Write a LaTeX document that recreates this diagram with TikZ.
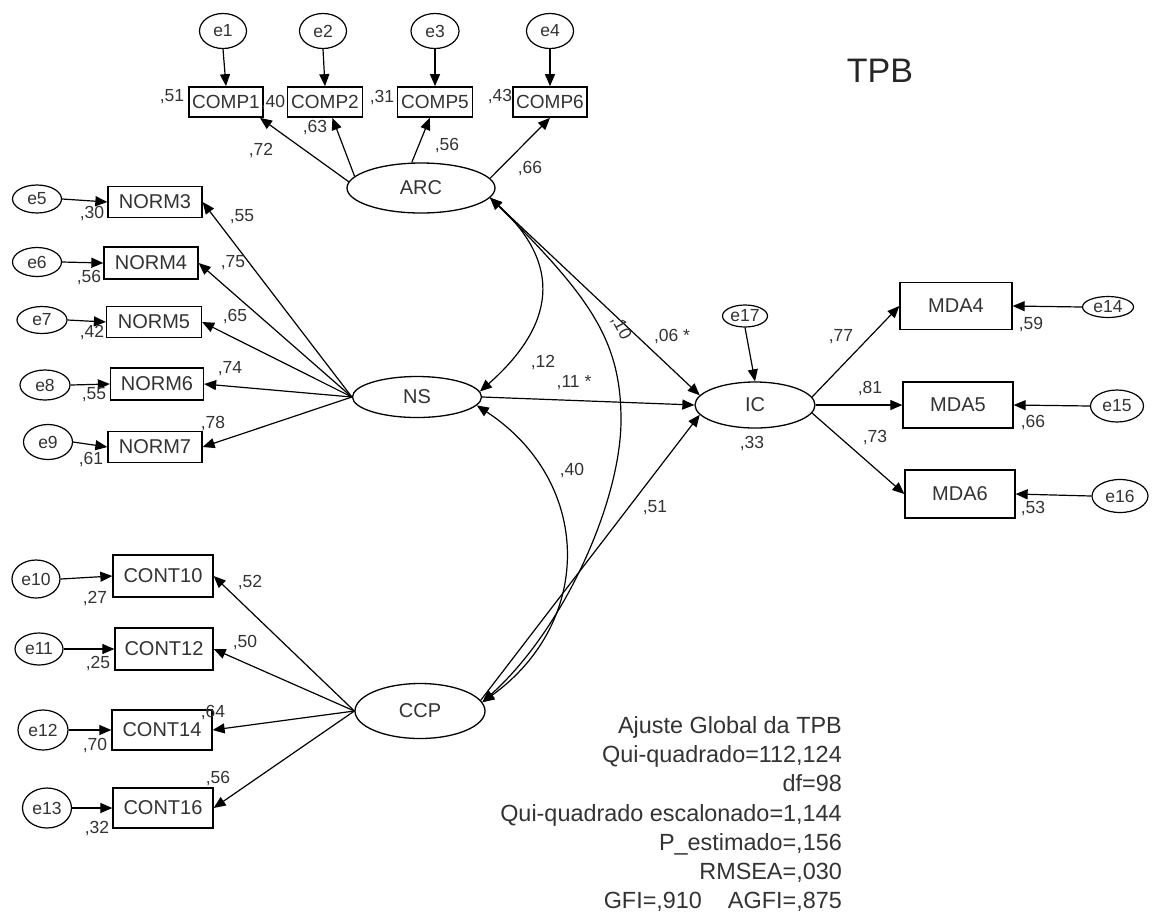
\documentclass[tikz,border=0pt]{standalone}
\usepackage{fontspec}
\setmainfont{Liberation Sans}
\usetikzlibrary{shapes.geometric,arrows.meta}
\begin{document}
\begin{tikzpicture}[x=1pt,y=-1pt,
  lv/.style={ellipse, draw=black, line width=1.3pt, inner sep=0pt, font=\fontsize{20}{20}\selectfont, text=black!80},
  ev/.style={ellipse, draw=black, line width=1.2pt, inner sep=0pt, font=\fontsize{17.5}{17.5}\selectfont, text=black!80},
  ob/.style={rectangle, draw=black, line width=1.3pt, inner sep=0pt, font=\fontsize{20}{20}\selectfont, text=black!80},
  cb/.style={ob, line width=1.7pt, font=\fontsize{19}{19}\selectfont},
  pa/.style={-{Triangle[length=12pt,width=10pt]}, line width=1.2pt},
  cv/.style={{Triangle[length=12pt,width=10pt]}-{Triangle[length=12pt,width=10pt]}, line width=1.2pt},
  lb/.style={font=\fontsize{17.5}{17.5}\selectfont, text=black!80, inner sep=0pt},
  ft/.style={anchor=base east, font=\fontsize{23.4}{23.4}\selectfont, text=black!80, inner sep=0pt}
]
\useasboundingbox[fill=white] (0,0) rectangle (1159,914);

% ---------- top: ARC ----------
\node[ev, minimum width=47pt, minimum height=35pt] (e1) at (223,31) {e1};
\node[ev, minimum width=47pt, minimum height=35pt] (e2) at (323,31) {e2};
\node[ev, minimum width=48pt, minimum height=35pt] (e3) at (435,31) {e3};
\node[ev, minimum width=47pt, minimum height=35pt] (e4) at (550,31) {e4};
\node[cb, minimum width=74pt, minimum height=30pt] (COMP1) at (226,102) {COMP1};
\node[cb, minimum width=75pt, minimum height=30pt] (COMP2) at (325,102) {COMP2};
\node[cb, minimum width=75pt, minimum height=30pt] (COMP5) at (435,102) {COMP5};
\node[cb, minimum width=74pt, minimum height=30pt] (COMP6) at (550,102) {COMP6};
\node[lv, minimum width=148pt, minimum height=50pt] (ARC) at (421,188) {ARC};

% ---------- left: NS ----------
\node[ev, minimum width=49pt, minimum height=28pt] (e5) at (37,199) {e5};
\node[ev, minimum width=49pt, minimum height=29pt] (e6) at (37,262) {e6};
\node[ev, minimum width=50pt, minimum height=27pt] (e7) at (42,320) {e7};
\node[ev, minimum width=50pt, minimum height=30pt] (e8) at (45,385) {e8};
\node[ev, minimum width=49pt, minimum height=35pt] (e9) at (48,442) {e9};
\node[ob, minimum width=94pt, minimum height=31pt] (NORM3) at (155,202) {NORM3};
\node[ob, minimum width=94pt, minimum height=32pt] (NORM4) at (151,263) {NORM4};
\node[ob, minimum width=95pt, minimum height=31pt] (NORM5) at (154,322) {NORM5};
\node[ob, minimum width=93pt, minimum height=32pt] (NORM6) at (157,384) {NORM6};
\node[ob, minimum width=94pt, minimum height=31pt] (NORM7) at (155,447) {NORM7};
\node[lv, minimum width=129pt, minimum height=41pt] (NS) at (417,397) {NS};

% ---------- bottom: CCP ----------
\node[ev, minimum width=48pt, minimum height=38pt] (e10) at (36,579) {e10};
\node[ev, minimum width=48pt, minimum height=32pt] (e11) at (39,649) {e11};
\node[ev, minimum width=50pt, minimum height=40pt] (e12) at (43,730) {e12};
\node[ev, minimum width=49pt, minimum height=40pt] (e13) at (47,808) {e13};
\node[ob, minimum width=100pt, minimum height=42pt] (CONT10) at (163,576) {CONT10};
\node[ob, minimum width=98pt, minimum height=42pt] (CONT12) at (164,649) {CONT12};
\node[ob, minimum width=100pt, minimum height=40pt] (CONT14) at (162,730) {CONT14};
\node[ob, minimum width=100pt, minimum height=40pt] (CONT16) at (163,808) {CONT16};
\node[lv, minimum width=130pt, minimum height=55pt] (CCP) at (420,711) {CCP};

% ---------- right: IC ----------
\node[ev, minimum width=45pt, minimum height=22pt] (e17) at (745,316) {e17};
\node[lv, minimum width=120pt, minimum height=46pt] (IC) at (755,405) {IC};
\node[ob, minimum width=112pt, minimum height=47pt] (MDA4) at (956,306) {MDA4};
\node[ob, minimum width=110pt, minimum height=46pt] (MDA5) at (958,405) {MDA5};
\node[ob, minimum width=110pt, minimum height=48pt] (MDA6) at (960,494) {MDA6};
\node[ev, minimum width=51pt, minimum height=21pt] (e14) at (1108,307) {e14};
\node[ev, minimum width=53pt, minimum height=32pt] (e15) at (1117,406) {e15};
\node[ev, minimum width=56pt, minimum height=33pt] (e16) at (1120,496) {e16};

% ---------- connectors ----------
\foreach \e/\c in {e1/COMP1,e2/COMP2,e3/COMP5,e4/COMP6}
  \draw[pa] (\e.south) -- (\c.north);
\draw[pa] (ARC.175) -- (COMP1.-25);
\draw[pa] (ARC.170) -- (COMP2.-65);
\draw[pa] (ARC.110) -- (COMP5.-108);
\draw[pa] (ARC.8) -- (COMP6.south);

\foreach \e/\c in {e5/NORM3,e6/NORM4,e7/NORM5,e8/NORM6,e9/NORM7,e10/CONT10,e11/CONT12,e12/CONT14,e13/CONT16}
  \draw[pa] (\e.east) -- (\c.west);
\foreach \c in {NORM3,NORM4,NORM5,NORM6,NORM7}
  \draw[pa] (NS.west) -- (\c.east);
\foreach \c in {CONT10,CONT12,CONT14,CONT16}
  \draw[pa] (CCP.west) -- (\c.east);

\draw[pa] (ARC.-8) -- (IC.170);
\draw[pa] (NS.east) -- (IC.180);
\draw[pa] (CCP.10) -- (IC.190);
\draw[pa] (e17.south) -- (IC.north);
\draw[pa] (IC.8) -- (MDA4.west);
\draw[pa] (IC.0) -- (MDA5.west);
\draw[pa] (IC.-8) -- (MDA6.west);
\draw[pa] (e14.west) -- (MDA4.east);
\draw[pa] (e15.west) -- (MDA5.east);
\draw[pa] (e16.west) -- (MDA6.east);

\draw[cv] (ARC.-8) .. controls (563,265) and (555,325) .. (NS.5);
\draw[cv] (ARC.-8) .. controls (590,297) and (621,340) .. (621,420)
                   .. controls (621,500) and (565,628) .. (CCP.8);
\draw[cv] (NS.-8) .. controls (592,481) and (595,621) .. (CCP.8);

% ---------- labels ----------
\node[lb] (l1) at (172,97) {,51};
\node[lb] (l2) at (273,103) {,40};
\node[lb] (l3) at (315,128) {,63};
\node[lb] (l4) at (382,98) {,31};
\node[lb] (l5) at (500,97) {,43};
\node[lb] (l6) at (261,151) {,72};
\node[lb] (l7) at (447,146) {,56};
\node[lb] (l8) at (530,169) {,66};

\node[lb] (l9) at (242,217) {,55};
\node[lb] (l10) at (233,263) {,75};
\node[lb] (l11) at (235,317) {,65};
\node[lb] (l12) at (230,369) {,74};
\node[lb] (l13) at (213,423) {,78};
\node[lb] (l14) at (92,214) {,30};
\node[lb] (l15) at (89,278) {,56};
\node[lb] (l16) at (92,333) {,42};
\node[lb] (l17) at (94,395) {,55};
\node[lb] (l18) at (91,459) {,61};

\node[lb] (l19) at (250,582) {,52};
\node[lb] (l20) at (245,642) {,50};
\node[lb] (l21) at (213,712) {,64};
\node[lb] (l22) at (218,778) {,56};
\node[lb] (l23) at (95,598) {,27};
\node[lb] (l24) at (98,663) {,25};
\node[lb] (l25) at (95,745) {,70};
\node[lb] (l26) at (97,828) {,32};

\node[lb] (l27) at (543,363) {,12};
\node[lb] (l28) at (574,383) {,11 *};
\node[lb, rotate=-62] (l29) at (621,328) {,10};
\node[lb] (l30) at (672,337) {,06 *};
\node[lb] (l31) at (572,470) {,40};
\node[lb] (l32) at (655,508) {,51};

\node[lb] (l33) at (841,337) {,77};
\node[lb] (l34) at (870,388) {,81};
\node[lb] (l35) at (875,437) {,73};
\node[lb] (l36) at (752,443) {,33};
\node[lb] (l37) at (1031,325) {,59};
\node[lb] (l38) at (1033,422) {,66};
\node[lb] (l39) at (1033,508) {,53};

% ---------- title and fit block ----------
\node[font=\fontsize{34}{34}\selectfont, text=black!85, inner sep=0pt] (title) at (880,71) {TPB};
\node[ft] (f1) at (842,733) {Ajuste Global da TPB};
\node[ft] (f2) at (842,762) {Qui-quadrado=112,124};
\node[ft] (f3) at (842,791) {df=98};
\node[ft] (f4) at (842,821) {Qui-quadrado escalonado=1,144};
\node[ft] (f5) at (842,850) {P\_estimado=,156};
\node[ft] (f6) at (842,879) {RMSEA=,030};
\node[ft] (f7) at (842,908) {GFI=,910\hspace{26pt}AGFI=,875};
\end{tikzpicture}
\end{document}
